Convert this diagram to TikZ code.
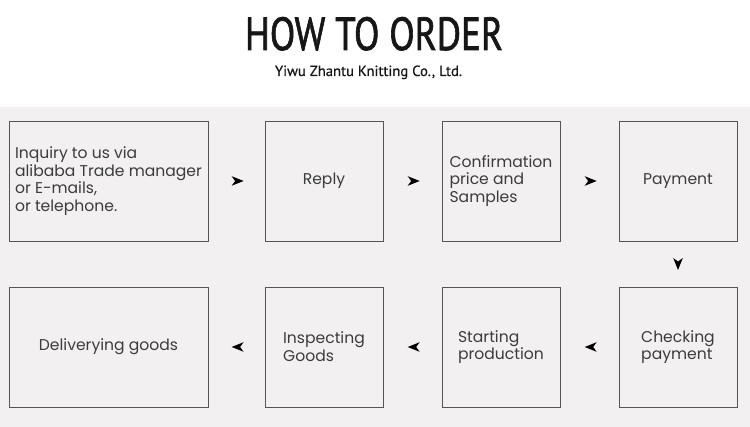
\documentclass[tikz,border=0pt]{standalone}
\usepackage{fontspec}
\setmainfont{Poppins}
\newfontfamily\titlefont[FakeBold=1.6]{PT Sans}
\newfontfamily\subtitlefont[FakeBold=0.6]{PT Sans}
\usepackage{graphicx}
\definecolor{bandgray}{HTML}{F2F0F0}
\definecolor{boxline}{HTML}{555555}
\definecolor{boxtext}{HTML}{3C3C3C}
\definecolor{titleblack}{HTML}{161616}
\tikzset{
  stepbox/.style={draw=boxline, line width=0.9pt, fill=bandgray, inner sep=0pt,
    minimum height=120pt, align=left, text=boxtext,
    font=\fontsize{15.6}{17.8}\selectfont},
  narrowbox/.style={stepbox, minimum width=118pt},
  widebox/.style={stepbox, minimum width=199pt},
  arrowhd/.pic={\fill[black] (6pt,0) -- (-6pt,4.8pt) -- (-2.5pt,0) -- (-6pt,-4.8pt) -- cycle;}
}
\begin{document}
\begin{tikzpicture}[x=1pt,y=-1pt]
\useasboundingbox (0,0) rectangle (750,427);
\fill[white] (0,0) rectangle (750,427);
\fill[bandgray] (0,107) rectangle (750,427);
% titles
\node[anchor=base, inner sep=0pt, text=titleblack] (title) at (374,50)
  {\resizebox{258pt}{33pt}{\titlefont HOW TO ORDER}};
\node[anchor=base, inner sep=0pt, text=titleblack] (subtitle) at (368.5,76)
  {\resizebox{187pt}{10.5pt}{\subtitlefont Yiwu Zhantu Knitting Co., Ltd.}};
% row 1
\node[widebox]   (b1) at (108.5,181) {Inquiry to us via\\alibaba Trade manager\\or E-mails,\\or telephone.};
\node[narrowbox] (b2) at (324,181) {Reply};
\node[narrowbox] (b3) at (501,181) {Confirmation\\price and\\Samples};
\node[narrowbox] (b4) at (678,181) {Payment};
% row 2
\node[narrowbox] (b5) at (678,347) {Checking\\payment};
\node[narrowbox] (b6) at (501,347) {Starting\\production};
\node[narrowbox] (b7) at (324,347) {Inspecting\\Goods};
\node[widebox]   (b8) at (108.5,347) {Deliverying goods};
% connectors (arrowheads only)
\path (b1.east) -- (b2.west) pic[pos=0.52, sloped, allow upside down]{arrowhd};
\path (b2.east) -- (b3.west) pic[pos=0.52, sloped, allow upside down]{arrowhd};
\path (b3.east) -- (b4.west) pic[pos=0.52, sloped, allow upside down]{arrowhd};
\path (b4.south) -- (b5.north) pic[pos=0.5, sloped, allow upside down]{arrowhd};
\path (b5.west) -- (b6.east) pic[pos=0.48, sloped, allow upside down]{arrowhd};
\path (b6.west) -- (b7.east) pic[pos=0.48, sloped, allow upside down]{arrowhd};
\path (b7.west) -- (b8.east) pic[pos=0.48, sloped, allow upside down]{arrowhd};
\end{tikzpicture}
\end{document}
